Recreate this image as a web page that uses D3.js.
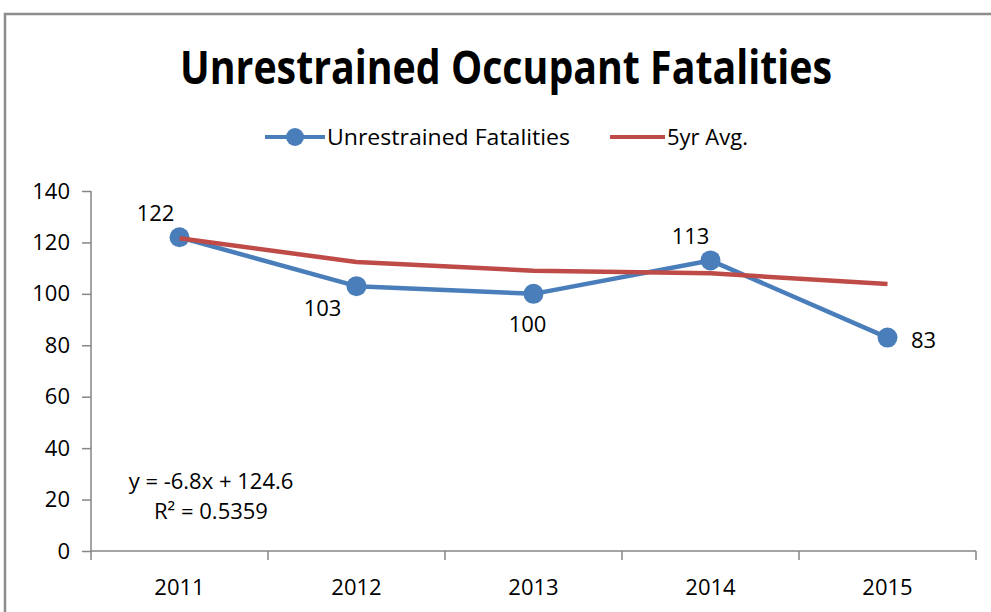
<!DOCTYPE html>
<html>
<head>
<meta charset="utf-8">
<script src="https://cdn.jsdelivr.net/npm/d3@7"></script>
<style>
  body { margin: 0; background: #fff; }
  text { font-family: "Open Sans", "Liberation Sans", sans-serif; fill: #000; }
</style>
</head>
<body>
<div id="chart"></div>
<script>
// data
var years = ["2011", "2012", "2013", "2014", "2015"];
var fatalities = [122, 103, 100, 113, 83];
var fiveYrAvg = [121.6, 112.4, 109.0, 108.0, 103.8];
var yTicks = [0, 20, 40, 60, 80, 100, 120, 140];
var trendText = ["y = -6.8x + 124.6", "R\u00b2 = 0.5359"];

// where excel put each data label, relative to the point
var labelOffset = [[-24, -24], [-34, 22], [-6, 30], [-20, -24], [36, 2]];

var W = 991, H = 612;
var margin = {top: 191, right: 15, bottom: 61, left: 91};
var width = W - margin.left - margin.right,
    height = H - margin.top - margin.bottom;

var blue = "#4a7ebb", red = "#be4b48", axisCol = "#868686";
var fs = 22;

var svg = d3.select("#chart").append("svg")
  .attr("width", W).attr("height", H);

// chart frame
svg.append("rect")
  .attr("x", 5).attr("y", 14)
  .attr("width", W + 20).attr("height", H + 20)
  .attr("fill", "none").attr("stroke", "#8c8c8c").attr("stroke-width", 2.5);

svg.append("text")
  .attr("x", 506).attr("y", 84)
  .attr("text-anchor", "middle")
  .attr("font-size", 46).attr("font-weight", "bold")
  .attr("textLength", 652).attr("lengthAdjust", "spacingAndGlyphs")
  .text("Unrestrained Occupant Fatalities");

// legend
var leg = svg.append("g");
leg.append("line").attr("x1", 265).attr("x2", 325).attr("y1", 137).attr("y2", 137)
  .attr("stroke", blue).attr("stroke-width", 4);
leg.append("circle").attr("cx", 295).attr("cy", 137).attr("r", 9).attr("fill", blue);
leg.append("text").attr("x", 327).attr("y", 145).attr("font-size", fs)
  .attr("textLength", 243).attr("lengthAdjust", "spacingAndGlyphs")
  .text("Unrestrained Fatalities");
leg.append("line").attr("x1", 610).attr("x2", 665).attr("y1", 137).attr("y2", 137)
  .attr("stroke", red).attr("stroke-width", 4);
leg.append("text").attr("x", 667).attr("y", 145).attr("font-size", fs)
  .text("5yr Avg.");

var g = svg.append("g")
  .attr("transform", "translate(" + margin.left + "," + margin.top + ")");

var x = d3.scaleBand().domain(years).range([0, width]);
var y = d3.scaleLinear().domain([0, 140]).range([height, 0]);

// y axis
var yAxis = g.append("g")
  .call(d3.axisLeft(y).tickValues(yTicks).tickSize(9).tickPadding(12));
yAxis.selectAll("text").attr("font-size", fs).style("font-family", null);

// x axis with ticks on the category boundaries
var xAxis = g.append("g").attr("transform", "translate(0," + height + ")")
  .call(d3.axisBottom(x).tickSize(0).tickPadding(28));
xAxis.selectAll("text").attr("font-size", fs).style("font-family", null);
xAxis.selectAll(".tick line").remove();
xAxis.selectAll(".bound").data(d3.range(years.length + 1)).enter()
  .append("line").attr("class", "bound")
  .attr("x1", function(i) { return i * x.step(); })
  .attr("x2", function(i) { return i * x.step(); })
  .attr("y1", 0).attr("y2", 9);

g.selectAll(".domain, .tick line, .bound")
  .attr("stroke", axisCol).attr("stroke-width", 1.5);
xAxis.select(".domain").attr("d", "M0,0H" + width);
yAxis.select(".domain").attr("d", "M0,0V" + height);

var cx = function(d, i) { return x(years[i]) + x.bandwidth() / 2; };

var line = d3.line().x(cx).y(function(d) { return y(d); });

g.append("path").datum(fatalities)
  .attr("d", line)
  .attr("fill", "none").attr("stroke", blue).attr("stroke-width", 4.5)
  .attr("stroke-linejoin", "round");

g.selectAll(".dot").data(fatalities).enter()
  .append("circle").attr("class", "dot")
  .attr("cx", cx).attr("cy", function(d) { return y(d); })
  .attr("r", 10).attr("fill", blue);

g.append("path").datum(fiveYrAvg)
  .attr("d", line)
  .attr("fill", "none").attr("stroke", red).attr("stroke-width", 4.5)
  .attr("stroke-linejoin", "round");

// data labels
g.selectAll(".lbl").data(fatalities).enter()
  .append("text").attr("class", "lbl")
  .attr("x", function(d, i) { return cx(d, i) + labelOffset[i][0]; })
  .attr("y", function(d, i) { return y(d) + labelOffset[i][1] + 8; })
  .attr("text-anchor", "middle").attr("font-size", fs)
  .text(function(d) { return d; });

// trendline equation
g.selectAll(".trend").data(trendText).enter()
  .append("text").attr("class", "trend")
  .attr("x", 120).attr("y", function(d, i) { return 298 + i * 30; })
  .attr("text-anchor", "middle").attr("font-size", fs)
  .text(function(d) { return d; });
</script>
</body>
</html>
